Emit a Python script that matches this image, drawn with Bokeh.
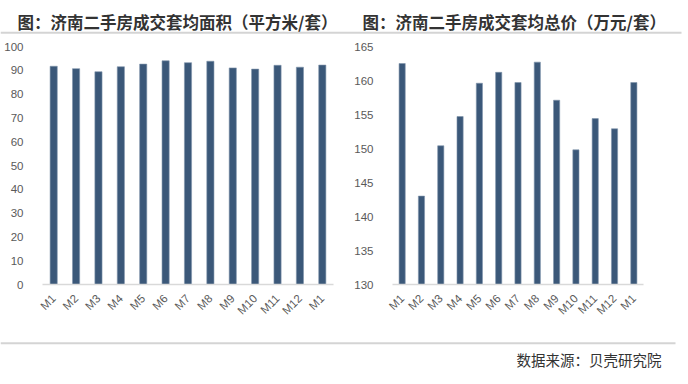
from math import pi
from bokeh.plotting import figure
from bokeh.layouts import column, row
from bokeh.models import Range1d, FixedTicker, ColumnDataSource
from bokeh.embed import file_html
from bokeh.resources import INLINE
from bokeh.core.properties import value

# ---- data ----
months = ["M1", "M2", "M3", "M4", "M5", "M6", "M7", "M8", "M9", "M10", "M11", "M12", "M1"]
area = [91.7, 90.7, 89.4, 91.5, 92.6, 94.0, 93.2, 93.8, 91.0, 90.5, 92.1, 91.3, 92.2]
price = [162.5, 143.0, 150.4, 154.7, 159.6, 161.2, 159.7, 162.7, 157.1, 149.8, 154.4, 152.9, 159.7]
area_ticks = [0, 10, 20, 30, 40, 50, 60, 70, 80, 90, 100]
price_ticks = [130, 135, 140, 145, 150, 155, 160, 165]
title_area = "图：济南二手房成交套均面积（平方米/套）"
title_price = "图：济南二手房成交套均总价（万元/套）"
source_note = "数据来源：贝壳研究院"

BAR = "#3b5879"
LABEL = "#595959"
CJK = value("Noto Sans CJK SC")

idx = list(range(len(months)))
overrides = {i: m for i, m in enumerate(months)}


def deco_fig(h, y0, y1):
    p = figure(width=688, height=h, x_range=Range1d(0, 688), y_range=Range1d(y1, y0),
               toolbar_location=None, output_backend="svg", x_axis_type=None, y_axis_type=None,
               min_border=0)
    p.outline_line_color = None
    p.grid.visible = False
    return p


# header (page y 0..38)
head = deco_fig(38, 0, 38)
head.text(x=[17, 362], y=[21, 21], text=[title_area, title_price], text_font=CJK,
          text_font_size="16.5px", text_font_style="bold", text_baseline="middle",
          text_color="#333333")
head.line(x=[0, 681], y=[32.3, 32.3], line_color="#d4d4d4", line_width=2)


def chart(values, lo, hi, ticks, ml, mr, mt, mb):
    src = ColumnDataSource(dict(x=idx, top=values, label=months))
    p = figure(width=344, height=292, x_range=Range1d(-0.5, len(months) - 0.5),
               y_range=Range1d(lo, hi), toolbar_location=None, output_backend="svg",
               min_border_left=ml, min_border_right=mr, min_border_top=mt, min_border_bottom=mb)
    p.vbar(x="x", top="top", bottom=lo, width=0.32, source=src, fill_color=BAR,
           line_color="#7f93ab", line_width=0.6)
    p.outline_line_color = None
    p.grid.visible = False
    p.xaxis.ticker = FixedTicker(ticks=idx)
    p.xaxis.major_label_overrides = overrides
    p.xaxis.major_label_orientation = pi / 4
    p.xaxis.axis_line_color = "#d9d9d9"
    p.xaxis.axis_line_width = 1.5
    p.xaxis.major_tick_line_color = None
    p.xaxis.minor_tick_line_color = None
    p.xaxis.major_label_standoff = 6
    p.yaxis.ticker = FixedTicker(ticks=ticks)
    p.yaxis.axis_line_color = None
    p.yaxis.major_tick_line_color = None
    p.yaxis.minor_tick_line_color = None
    p.yaxis.major_label_standoff = 13
    for ax in (p.xaxis, p.yaxis):
        ax.major_label_text_font = "Liberation Sans"
        ax.major_label_text_font_size = "11.5px"
        ax.major_label_text_color = LABEL
    return p


# charts (page y 38..330)
p1 = chart(area, 0, 100, area_ticks, 42, 11, 6, 46)
p2 = chart(price, 130, 165, price_ticks, 48, 45, 8, 42)

# footer (page y 330..384)
foot = deco_fig(54, 330, 384)
foot.line(x=[0, 675], y=[342.7, 342.7], line_color="#d4d4d4", line_width=2)
foot.text(x=[661], y=[359], text=[source_note], text_font=CJK, text_font_size="14.5px",
          text_align="right", text_baseline="middle", text_color="#333333")

layout = column(head, row(p1, p2), foot)
open("out.html", "w").write(file_html(layout, INLINE))
